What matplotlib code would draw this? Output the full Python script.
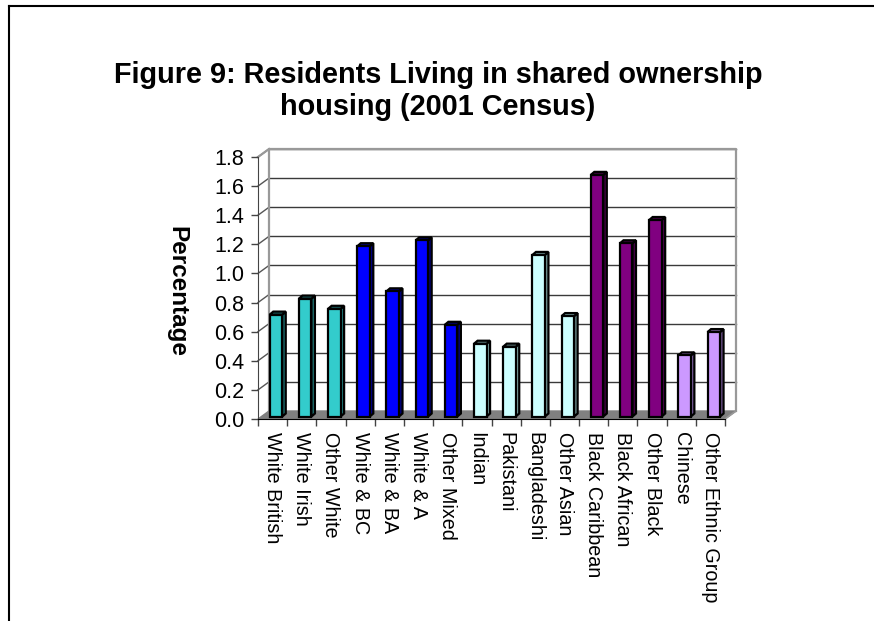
import numpy as np
import matplotlib.pyplot as plt
from matplotlib.patches import Polygon
from matplotlib.lines import Line2D

# Data
categories = ['White British', 'White Irish', 'Other White', 'White & BC',
              'White & BA', 'White & A', 'Other Mixed', 'Indian', 'Pakistani',
              'Bangladeshi', 'Other Asian', 'Black Caribbean', 'Black African',
              'Other Black', 'Chinese', 'Other Ethnic Group']
values = [0.70, 0.81, 0.74, 1.17, 0.86, 1.21, 0.63, 0.50, 0.48,
          1.11, 0.69, 1.66, 1.19, 1.35, 0.42, 0.58]
groups = [0, 0, 0, 1, 1, 1, 1, 2, 2, 2, 2, 3, 3, 3, 4, 4]
yticks = [0.0, 0.2, 0.4, 0.6, 0.8, 1.0, 1.2, 1.4, 1.6, 1.8]

face_colours = ['#33CCCC', '#0000FF', '#CCFFFF', '#800080', '#CC99FF']
side_colours = ['#1F7A7A', '#00008F', '#7AA0A0', '#4A004A', '#7A5C9C']

plt.rcParams['font.family'] = ['Liberation Sans', 'DejaVu Sans']

W, H = 874, 621
fig = plt.figure(figsize=(W / 100, H / 100), dpi=100)
ax_w, ax_h = 467.0, 262.0
ax = fig.add_axes([258 / W, 1 - 419 / H, ax_w / W, ax_h / H])
ax.set_xlim(-0.5, 15.5)
ax.set_ylim(0, 1.8)

# pixel -> data units for the fake 3d depth
ux = 16 / ax_w
uy = 1.8 / ax_h
wall_dx, wall_dy = 11 * ux, 8 * uy
bar_dx, bar_dy = 3.5 * ux, 3 * uy
off_x, off_y = 3.4 * ux, 2.5 * uy
bw = 12.5 * ux

x0, x1 = -0.5, 15.5

# floor
ax.add_patch(Polygon([(x0, 0), (x1, 0), (x1 + wall_dx, wall_dy), (x0 + wall_dx, wall_dy)],
                     closed=True, facecolor='#808080', edgecolor='#808080',
                     lw=1, clip_on=False, zorder=1))

# back wall grid + side wall diagonals
for t in yticks[1:]:
    ax.plot([x0 + wall_dx, x1 + wall_dx], [t + wall_dy, t + wall_dy],
            color='#3a3a3a', lw=1, clip_on=False, zorder=0.5)
    ax.plot([x0, x0 + wall_dx], [t, t + wall_dy], color='#555555', lw=1,
            clip_on=False, zorder=0.5)
top = 1.8 + wall_dy
ax.plot([x0 + wall_dx, x0 + wall_dx, x1 + wall_dx, x1 + wall_dx],
        [wall_dy, top, top, wall_dy], color='#999999', lw=1.6,
        clip_on=False, zorder=0.6)
ax.plot([x0, x0 + wall_dx], [1.8, top], color='#999999', lw=1.6,
        clip_on=False, zorder=0.6)
ax.plot([x1, x1 + wall_dx], [0, wall_dy], color='#999999', lw=1.2,
        clip_on=False, zorder=1.1)

# bars
xs = np.arange(len(categories))
fcs = [face_colours[g] for g in groups]
ax.bar(xs + off_x, values, width=bw, bottom=off_y, color=fcs,
       edgecolor='black', lw=1.6, zorder=3)
for x, v, g in zip(xs, values, groups):
    l = x + off_x - bw / 2
    r = x + off_x + bw / 2
    b = off_y
    t = off_y + v
    ax.add_patch(Polygon([(r, b), (r + bar_dx, b + bar_dy), (r + bar_dx, t + bar_dy), (r, t)],
                         closed=True, facecolor=side_colours[g], edgecolor='black',
                         lw=1.6, zorder=2.9, clip_on=False))
    ax.add_patch(Polygon([(l, t), (r, t), (r + bar_dx, t + bar_dy), (l + bar_dx, t + bar_dy)],
                         closed=True, facecolor=side_colours[g], edgecolor='black',
                         lw=1.6, zorder=2.9, clip_on=False))

# axes
for s in ['top', 'right']:
    ax.spines[s].set_visible(False)
ax.spines['left'].set_color('#444444')
ax.spines['bottom'].set_color('black')
ax.spines['left'].set_zorder(4)
ax.spines['bottom'].set_zorder(4)
ax.patch.set_visible(False)

ax.set_yticks(yticks)
ax.set_yticklabels(['%.1f' % t for t in yticks], fontsize=15.5)
ax.tick_params(axis='y', length=5, width=1, pad=5, color='#444444')

ax.set_xticks(xs)
ax.set_xticklabels(categories, rotation=270, fontsize=14.2)
ax.set_xticks(np.arange(-0.5, 16, 1), minor=True)
ax.tick_params(axis='x', which='major', length=0, pad=9)
ax.tick_params(axis='x', which='minor', length=5, width=1, color='#444444')

fig.text(177 / W, 1 - 292 / H, 'Percentage', rotation=270, fontsize=17.5,
         fontweight='bold', ha='center', va='center')

fig.text(438 / W, 1 - 91 / H,
         'Figure 9: Residents Living in shared ownership\nhousing (2001 Census)',
         fontsize=20.8, fontweight='bold', ha='center', va='center',
         multialignment='center', linespacing=1.2)

# chart area border (cut off at right and bottom)
fig.add_artist(Line2D([8.5 / W, 8.5 / W], [0, 1 - 6 / H], color='black', lw=1.5))
fig.add_artist(Line2D([8.5 / W, 1], [1 - 6 / H, 1 - 6 / H], color='black', lw=1.5))

fig.savefig('out.png', dpi=100)
